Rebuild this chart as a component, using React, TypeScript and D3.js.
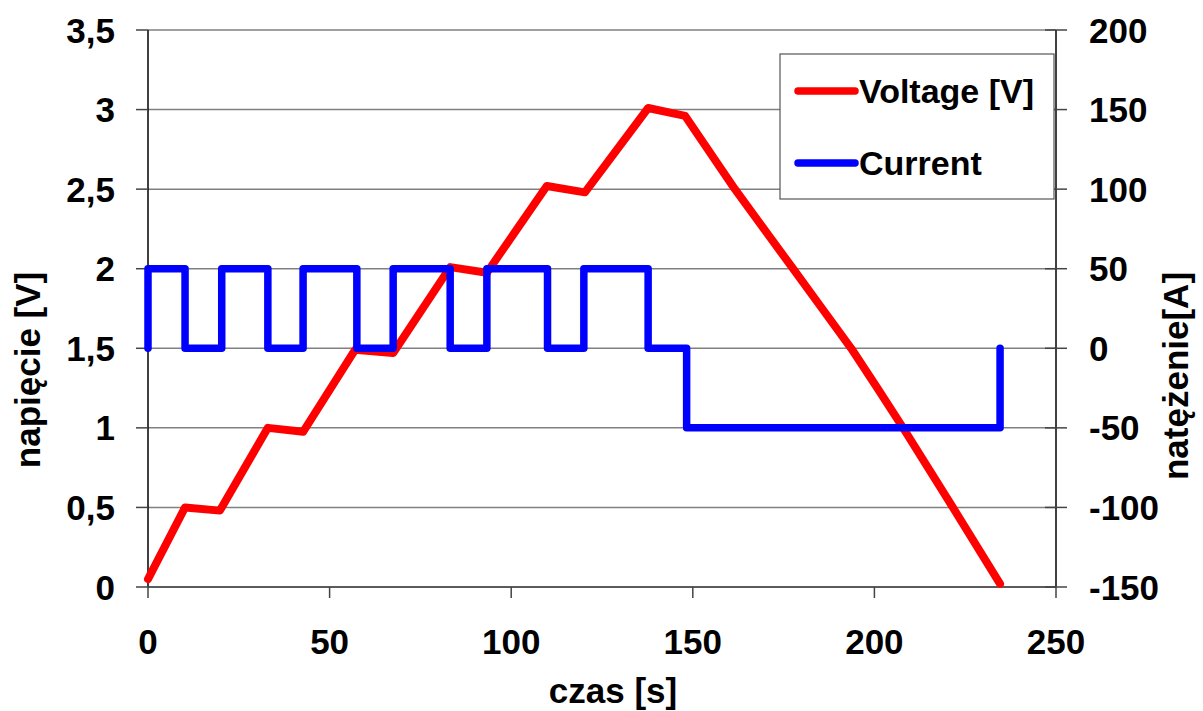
import React from "react";
import * as d3 from "d3";

const voltageTime = [0, 10.2, 19.8, 33, 42.7, 57, 67.5, 83.2, 93.3, 109.8, 120.3, 137.7, 147.9, 161.6, 177.6, 185.6, 193.6, 200.8, 207.9, 221.6, 234.6];
const voltageValue = [0.05, 0.5, 0.48, 1.0, 0.975, 1.49, 1.47, 2.01, 1.975, 2.52, 2.48, 3.01, 2.96, 2.5, 2.0, 1.75, 1.5, 1.25, 1.0, 0.5, 0.02];

const currentTime = [0, 0, 10.2, 10.2, 20.3, 20.3, 33, 33, 42.7, 42.7, 57.5, 57.5, 67.5, 67.5, 83.2, 83.2, 93.3, 93.3, 110, 110, 120, 120, 137.7, 137.7, 148.3, 148.3, 234.6, 234.6];
const currentValue = [0, 50, 50, 0, 0, 50, 50, 0, 0, 50, 50, 0, 0, 50, 50, 0, 0, 50, 50, 0, 0, 50, 50, 0, 0, -50, -50, 0];

const xTicks = [0, 50, 100, 150, 200, 250];
const yLeftTicks = [0, 0.5, 1, 1.5, 2, 2.5, 3, 3.5];
const yRightTicks = [-150, -100, -50, 0, 50, 100, 150, 200];

const seriesNames = ["Voltage [V]", "Current"];
const xTitle = "czas [s]";
const yLeftTitle = "napięcie [V]";
const yRightTitle = "natężenie[A]";

const W = 1203;
const H = 711;
const FONT = "'Liberation Sans', Arial, sans-serif";

export default function App() {
  const x = d3.scaleLinear().domain([0, 250]).range([148, 1056]);
  const yL = d3.scaleLinear().domain([0, 3.5]).range([587, 30]);
  const yR = d3.scaleLinear().domain([-150, 200]).range([587, 30]);

  const vData = voltageTime.map((t, i) => [t, voltageValue[i]] as [number, number]);
  const cData = currentTime.map((t, i) => [t, currentValue[i]] as [number, number]);

  const vLine = d3.line<[number, number]>().x((d) => x(d[0])).y((d) => yL(d[1]));
  const cLine = d3.line<[number, number]>().x((d) => x(d[0])).y((d) => yR(d[1]));

  const fmt = (v: number) => String(v).replace(".", ",");

  return (
    <svg width={W} height={H} style={{ position: "absolute", left: 0, top: 0, background: "#fff" }} fontFamily={FONT}>
      <rect x={0} y={0} width={W} height={H} fill="#fff" />
      {yLeftTicks.map((t) => (
        <line key={"g" + t} x1={x(0)} x2={x(250)} y1={yL(t)} y2={yL(t)} stroke="#808080" strokeWidth={1.5} />
      ))}
      <line x1={x(0)} x2={x(0)} y1={yL(3.5)} y2={yL(0)} stroke="#000" strokeWidth={1.5} />
      {yLeftTicks.map((t) => (
        <g key={"l" + t}>
          <line x1={x(0) - 12} x2={x(0)} y1={yL(t)} y2={yL(t)} stroke="#444" strokeWidth={1.5} />
          <text x={115} y={yL(t)} dy="0.36em" textAnchor="end" fontSize={35} fontWeight="bold">
            {fmt(t)}
          </text>
        </g>
      ))}
      <line x1={x(0)} x2={x(250)} y1={yL(0)} y2={yL(0)} stroke="#444" strokeWidth={1.5} />
      {xTicks.map((t) => (
        <g key={"x" + t}>
          <line x1={x(t)} x2={x(t)} y1={yL(0)} y2={yL(0) + 11} stroke="#444" strokeWidth={1.5} />
          <text x={x(t)} y={654} textAnchor="middle" fontSize={35} fontWeight="bold">
            {t}
          </text>
        </g>
      ))}
      <line x1={x(250)} x2={x(250)} y1={yR(200)} y2={yR(-150)} stroke="#000" strokeWidth={1.5} />
      {yRightTicks.map((t) => (
        <g key={"r" + t}>
          <line x1={x(250) - 11} x2={x(250) + 11} y1={yR(t)} y2={yR(t)} stroke="#444" strokeWidth={1.5} />
          <text x={1089} y={yR(t)} dy="0.36em" textAnchor="start" fontSize={35} fontWeight="bold">
            {t}
          </text>
        </g>
      ))}
      <path d={vLine(vData) || ""} fill="none" stroke="#ff0000" strokeWidth={8} strokeLinejoin="round" strokeLinecap="round" />
      <path d={cLine(cData) || ""} fill="none" stroke="#0000ff" strokeWidth={7.5} strokeLinejoin="round" strokeLinecap="round" />
      <rect x={780} y={54} width={274} height={145} fill="#fff" stroke="#555" strokeWidth={1.2} />
      <line x1={798} x2={855} y1={91} y2={91} stroke="#ff0000" strokeWidth={7.5} strokeLinecap="round" />
      <text x={859} y={103} fontSize={34} fontWeight="bold">{seriesNames[0]}</text>
      <line x1={798} x2={855} y1={163} y2={163} stroke="#0000ff" strokeWidth={7.5} strokeLinecap="round" />
      <text x={859} y={175} fontSize={34} fontWeight="bold">{seriesNames[1]}</text>
      <text x={613} y={703} textAnchor="middle" fontSize={35} fontWeight="bold">{xTitle}</text>
      <text transform="translate(40,370) rotate(-90)" textAnchor="middle" fontSize={35} fontWeight="bold">{yLeftTitle}</text>
      <text transform="translate(1188,376) rotate(-90)" textAnchor="middle" fontSize={35} fontWeight="bold">{yRightTitle}</text>
    </svg>
  );
}
